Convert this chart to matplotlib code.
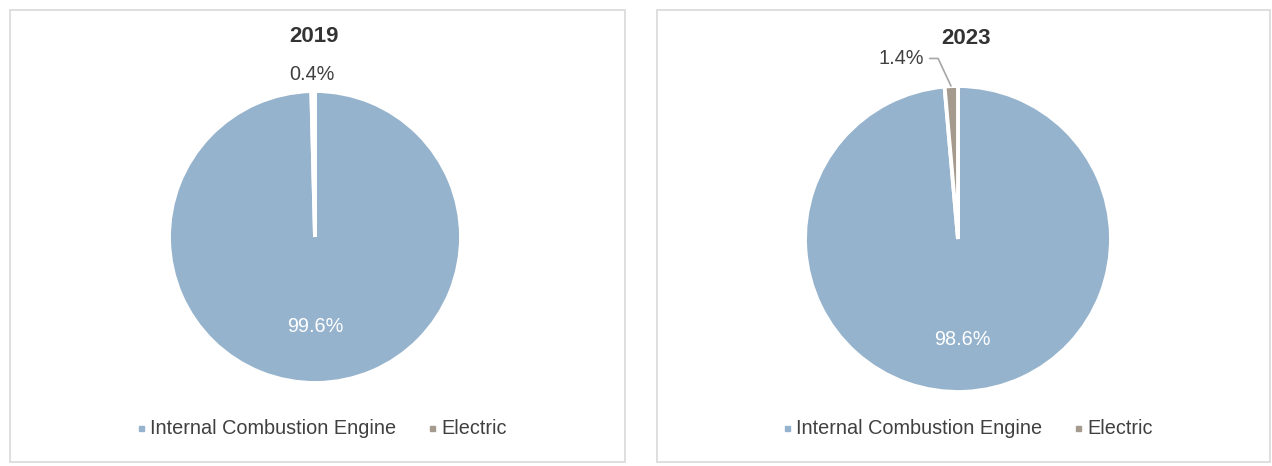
import matplotlib
matplotlib.use("Agg")
import matplotlib.pyplot as plt
from matplotlib.patches import Rectangle

years = ["2019", "2023"]
categories = ["Internal Combustion Engine", "Electric"]
ice_share = [99.6, 98.6]
ev_share = [0.4, 1.4]

COLORS = ["#96b3cd", "#a59a8e"]
TXT = "#404040"
plt.rcParams["font.family"] = ["Liberation Sans", "DejaVu Sans"]

W, H = 1272, 466
fig = plt.figure(figsize=(W / 100, H / 100), dpi=100)

def fx(px): return px / W
def fy(py): return 1 - py / H

# panel frames (pixel boxes: left, top, right, bottom)
panels = [(10, 10, 625, 462), (657, 10, 1270, 462)]
# pie geometry (center x, center y, radius) in pixels
pies = [(315, 237, 146), (958, 239, 153)]
titles_xy = [(314, 37), (966, 39)]
legend_x = [(141, 432), (787, 1078)]

for i, year in enumerate(years):
    l, t, r, b = panels[i]
    fig.patches.append(Rectangle((fx(l), fy(b)), fx(r - l), (b - t) / H,
                                 transform=fig.transFigure, fill=False,
                                 edgecolor="#d9d9d9", lw=1.2))
    cx, cy, rad = pies[i]
    ax = fig.add_axes([fx(cx - rad), fy(cy + rad), 2 * rad / W, 2 * rad / H])
    vals = [ice_share[i], ev_share[i]]
    ax.pie(vals, colors=COLORS, startangle=90, counterclock=False,
           wedgeprops=dict(edgecolor="white", linewidth=2.8))
    ax.set_xlim(-1, 1); ax.set_ylim(-1, 1)
    # inside label
    ax.text(0.03 if i else 0.0, -0.61 if i == 0 else -0.66, "%.1f%%" % ice_share[i],
            ha="center", va="center", color="white", fontsize=14.3)
    # outside label for electric
    if i == 0:
        ax.text(-0.02, 1.11, "%.1f%%" % ev_share[i], ha="center", va="center",
                color=TXT, fontsize=14.3, clip_on=False)
    else:
        ax.annotate("%.1f%%" % ev_share[i], xy=(-0.046, 1.0), xytext=(-0.37, 1.18),
                    ha="center", va="center", color=TXT, fontsize=14.3,
                    annotation_clip=False,
                    arrowprops=dict(arrowstyle="-", color="#a6a6a6", lw=1.2,
                                    shrinkA=2, shrinkB=0,
                                    connectionstyle="angle,angleA=0,angleB=115,rad=0"))
    tx, ty = titles_xy[i]
    fig.text(fx(tx), fy(ty), year, ha="center", va="center", fontsize=16,
             fontweight="bold", color="#333333")
    # legend
    for j, cat in enumerate(categories):
        mx = legend_x[i][j]
        fig.patches.append(Rectangle((fx(mx - 2.5), fy(431)), 5 / W, 5 / H,
                                     transform=fig.transFigure, color=COLORS[j]))
        fig.text(fx(mx + 9), fy(428), cat, ha="left", va="center",
                 fontsize=14.3, color=TXT)

fig.savefig("out.png", dpi=100)
